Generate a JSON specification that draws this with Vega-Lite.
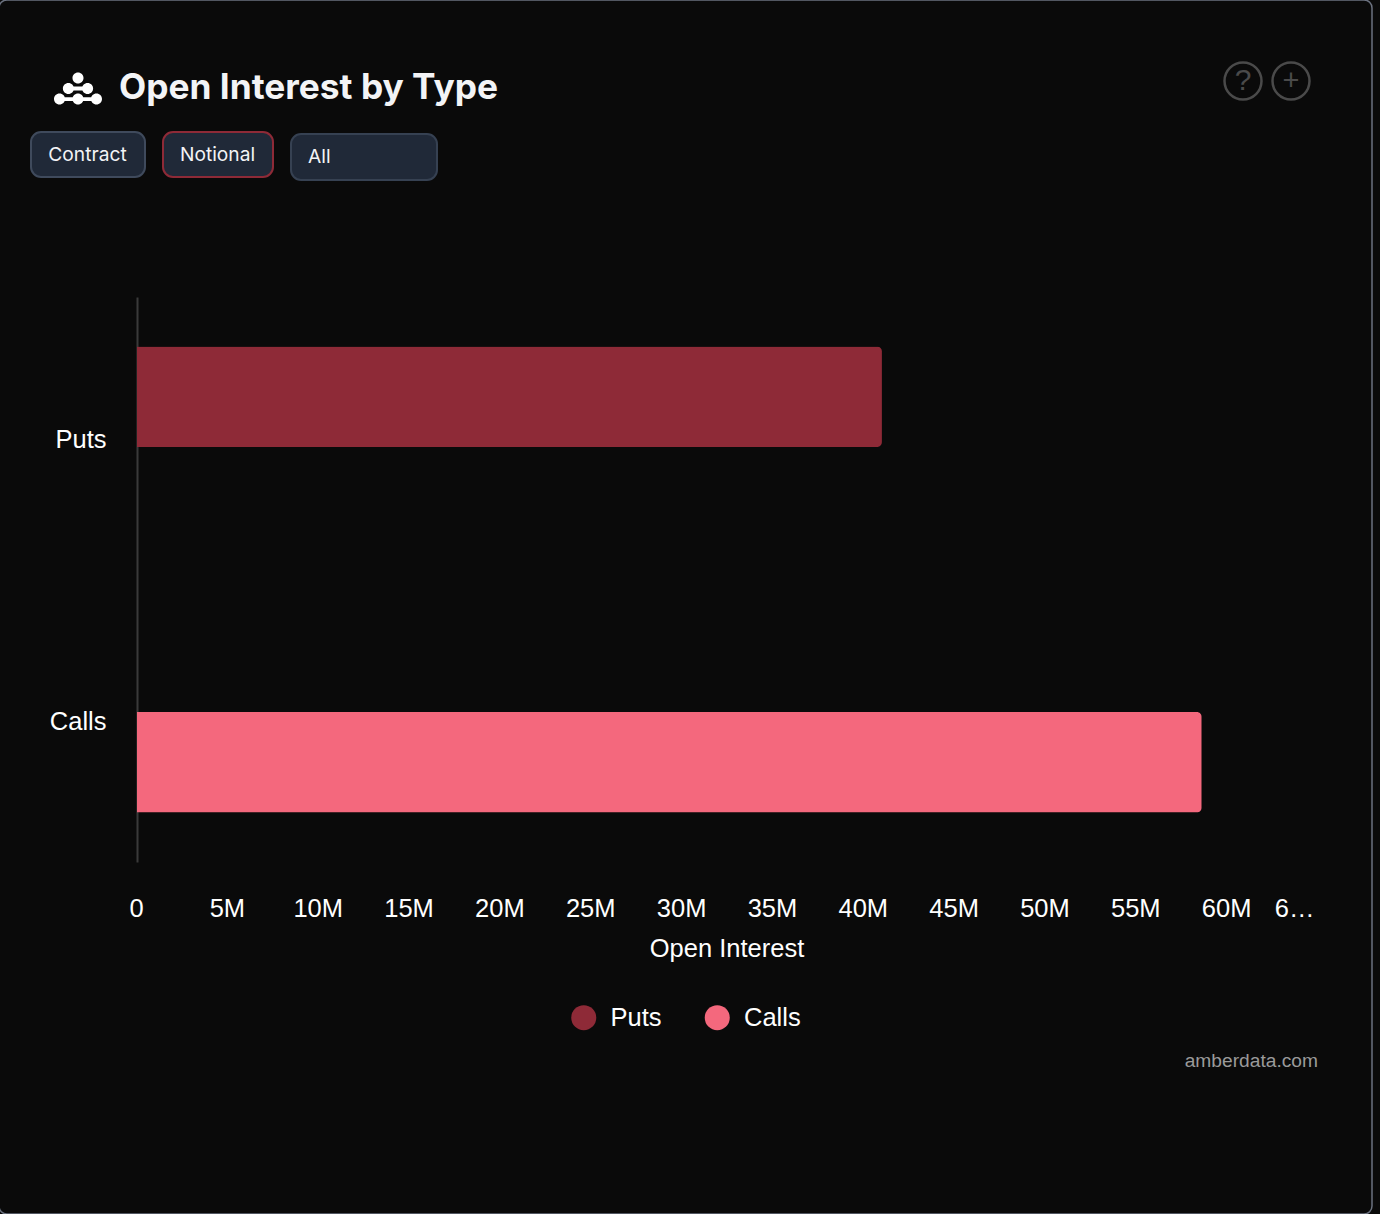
{
"$schema":"https://vega.github.io/schema/vega-lite/v6.json",
"background":"#0a0a0a",
"autosize":"none",
"padding":{"left":137,"top":297,"right":62,"bottom":352},
"width":1181,
"height":565,
"config":{"view":{"stroke":null},"font":"Liberation Sans"},
"layer":[
{
"data":{"values":[{"type":"Puts","openInterest":41000000},{"type":"Calls","openInterest":58600000}]},
"mark":{"type":"bar","size":100.5,"cornerRadiusEnd":5},
"encoding":{
"y":{"field":"type","type":"nominal","sort":["Puts","Calls"],"scale":{"paddingInner":0,"paddingOuter":0},
"axis":{"title":null,"ticks":false,"grid":false,"domain":true,"domainColor":"#3a3a3a","domainWidth":2,"labelColor":"#ffffff","labelFontSize":25.5,"labelFont":"Liberation Sans","labelPadding":31,"labelAngle":0,"labelOffset":1.4}},
"yOffset":{"field":"type","type":"nominal","sort":["Puts","Calls"],"scale":{"paddingInner":0,"paddingOuter":0.7}},
"x":{"field":"openInterest","type":"quantitative","scale":{"domain":[0,65000000],"nice":false},
"axis":{"title":"Open Interest","titleX":589.5,"values":[0,5000000,10000000,15000000,20000000,25000000,30000000,35000000,40000000,45000000,50000000,55000000,60000000,65000000],"labelExpr":"datum.value === 0 ? '0' : datum.value > 60000000 ? '6…' : (datum.value / 1000000) + 'M'","labelAlign":{"condition":{"test":"datum.value > 60000000","value":"right"},"value":"center"},"labelOffset":{"condition":{"test":"datum.value > 60000000","value":-4},"value":-1},"labelOverlap":false,"labelBound":false,"labelFlush":false,"ticks":false,"grid":false,"domain":false,"labelColor":"#ffffff","labelFontSize":25.5,"labelFont":"Liberation Sans","labelPadding":34,"titleColor":"#ffffff","titleFontSize":25.5,"titleFont":"Liberation Sans","titleFontWeight":"normal","titlePadding":15}},
"fill":{"field":"type","type":"nominal","sort":["Puts","Calls"],"scale":{"domain":["Puts","Calls"],"range":["#8e2a37","#f4687d"]},
"legend":{"title":null,"orient":"none","legendX":434,"legendY":707.5,"direction":"horizontal","columns":2,"symbolType":"circle","symbolSize":625,"symbolStrokeWidth":0,"labelColor":"#ffffff","labelFontSize":25.5,"labelFont":"Liberation Sans","labelOffset":14,"columnPadding":42.5,"symbolOpacity":1}}
}
},
{
"data":{"values":[{"label":"amberdata.com"}]},
"layer":[
{"mark":{"type":"rect","fill":"transparent","stroke":"#6b7280","strokeWidth":1.5,"cornerRadius":8},
"encoding":{"x":{"datum":-1,"scale":{"domain":[137,1318],"range":[0,1181]},"axis":null},"x2":{"datum":1372},"y":{"datum":0,"scale":{"domain":[297,862],"range":[0,565]},"axis":null},"y2":{"datum":1214}}},
{"mark":{"type":"text","font":"Liberation Sans","fontSize":19.2,"color":"#9a9a9a","align":"right","baseline":"middle"},
"encoding":{"x":{"datum":1318,"scale":{"domain":[137,1318],"range":[0,1181]},"axis":null},"y":{"datum":1061,"scale":{"domain":[297,862],"range":[0,565]},"axis":null},"text":{"field":"label"}}},
{"mark":{"type":"point","filled":true,"fill":"#ffffff","stroke":null,"size":2304,"opacity":1,"shape":"M-.23 -.44a.23 .23 0 1 0 .46 0a.23 .23 0 1 0 -.46 0ZM-.63 0a.23 .23 0 1 0 .46 0a.23 .23 0 1 0 -.46 0ZM.17 0a.23 .23 0 1 0 .46 0a.23 .23 0 1 0 -.46 0ZM-1 .44a.23 .23 0 1 0 .46 0a.23 .23 0 1 0 -.46 0ZM-.23 .44a.23 .23 0 1 0 .46 0a.23 .23 0 1 0 -.46 0ZM.54 .44a.23 .23 0 1 0 .46 0a.23 .23 0 1 0 -.46 0ZM-.8 .36v.16h1.6v-.16ZM-.3 -.08v.16h.6v-.16Z"},
"encoding":{"x":{"datum":78,"scale":{"domain":[137,1318],"range":[0,1181]},"axis":null},"y":{"datum":88.5,"scale":{"domain":[297,862],"range":[0,565]},"axis":null}}},
{"data":{"values":[{"label":"Open Interest by Type"}]},"mark":{"type":"text","font":"Inter","fontSize":35.3,"fontWeight":700,"color":"#f3f4f6","align":"left","baseline":"middle"},
"encoding":{"x":{"datum":119,"scale":{"domain":[137,1318],"range":[0,1181]},"axis":null},"y":{"datum":88,"scale":{"domain":[297,862],"range":[0,565]},"axis":null},"text":{"field":"label"}}},
{"mark":{"type":"rect","fill":"#202938","stroke":"#3f4a5c","strokeWidth":2,"cornerRadius":10},
"encoding":{"x":{"datum":31,"scale":{"domain":[137,1318],"range":[0,1181]},"axis":null},"x2":{"datum":145},"y":{"datum":132,"scale":{"domain":[297,862],"range":[0,565]},"axis":null},"y2":{"datum":177}}},
{"mark":{"type":"rect","fill":"#202938","stroke":"#8e2a37","strokeWidth":2,"cornerRadius":10},
"encoding":{"x":{"datum":163,"scale":{"domain":[137,1318],"range":[0,1181]},"axis":null},"x2":{"datum":273},"y":{"datum":132,"scale":{"domain":[297,862],"range":[0,565]},"axis":null},"y2":{"datum":177}}},
{"mark":{"type":"rect","fill":"#202938","stroke":"#364152","strokeWidth":2,"cornerRadius":10},
"encoding":{"x":{"datum":291,"scale":{"domain":[137,1318],"range":[0,1181]},"axis":null},"x2":{"datum":437},"y":{"datum":134,"scale":{"domain":[297,862],"range":[0,565]},"axis":null},"y2":{"datum":180}}},
{"data":{"values":[{"label":"Contract"}]},"mark":{"type":"text","font":"Inter","fontSize":19.2,"color":"#f3f4f6","align":"center","baseline":"middle"},
"encoding":{"x":{"datum":87.5,"scale":{"domain":[137,1318],"range":[0,1181]},"axis":null},"y":{"datum":155,"scale":{"domain":[297,862],"range":[0,565]},"axis":null},"text":{"field":"label"}}},
{"data":{"values":[{"label":"Notional"}]},"mark":{"type":"text","font":"Inter","fontSize":19.2,"color":"#f3f4f6","align":"center","baseline":"middle"},
"encoding":{"x":{"datum":217.5,"scale":{"domain":[137,1318],"range":[0,1181]},"axis":null},"y":{"datum":155,"scale":{"domain":[297,862],"range":[0,565]},"axis":null},"text":{"field":"label"}}},
{"data":{"values":[{"label":"All"}]},"mark":{"type":"text","font":"Inter","fontSize":19.2,"color":"#f3f4f6","align":"left","baseline":"middle"},
"encoding":{"x":{"datum":308,"scale":{"domain":[137,1318],"range":[0,1181]},"axis":null},"y":{"datum":157,"scale":{"domain":[297,862],"range":[0,565]},"axis":null},"text":{"field":"label"}}},
{"mark":{"type":"point","filled":false,"fill":"transparent","stroke":"#4a4a4a","strokeWidth":2.5,"size":1369,"shape":"circle","opacity":1},
"encoding":{"x":{"datum":1243,"scale":{"domain":[137,1318],"range":[0,1181]},"axis":null},"y":{"datum":81,"scale":{"domain":[297,862],"range":[0,565]},"axis":null}}},
{"mark":{"type":"point","filled":false,"fill":"transparent","stroke":"#4a4a4a","strokeWidth":2.5,"size":1369,"shape":"circle","opacity":1},
"encoding":{"x":{"datum":1291,"scale":{"domain":[137,1318],"range":[0,1181]},"axis":null},"y":{"datum":81,"scale":{"domain":[297,862],"range":[0,565]},"axis":null}}},
{"data":{"values":[{"label":"?"}]},"mark":{"type":"text","font":"Liberation Sans","fontSize":30,"color":"#4a4a4a","align":"center","baseline":"middle"},
"encoding":{"x":{"datum":1243,"scale":{"domain":[137,1318],"range":[0,1181]},"axis":null},"y":{"datum":81,"scale":{"domain":[297,862],"range":[0,565]},"axis":null},"text":{"field":"label"}}},
{"data":{"values":[{"label":"+"}]},"mark":{"type":"text","font":"Liberation Sans","fontSize":29,"color":"#4a4a4a","align":"center","baseline":"middle"},
"encoding":{"x":{"datum":1291,"scale":{"domain":[137,1318],"range":[0,1181]},"axis":null},"y":{"datum":81,"scale":{"domain":[297,862],"range":[0,565]},"axis":null},"text":{"field":"label"}}}
]
}
],
"resolve":{"scale":{"x":"independent","y":"independent","yOffset":"independent"}}
}
